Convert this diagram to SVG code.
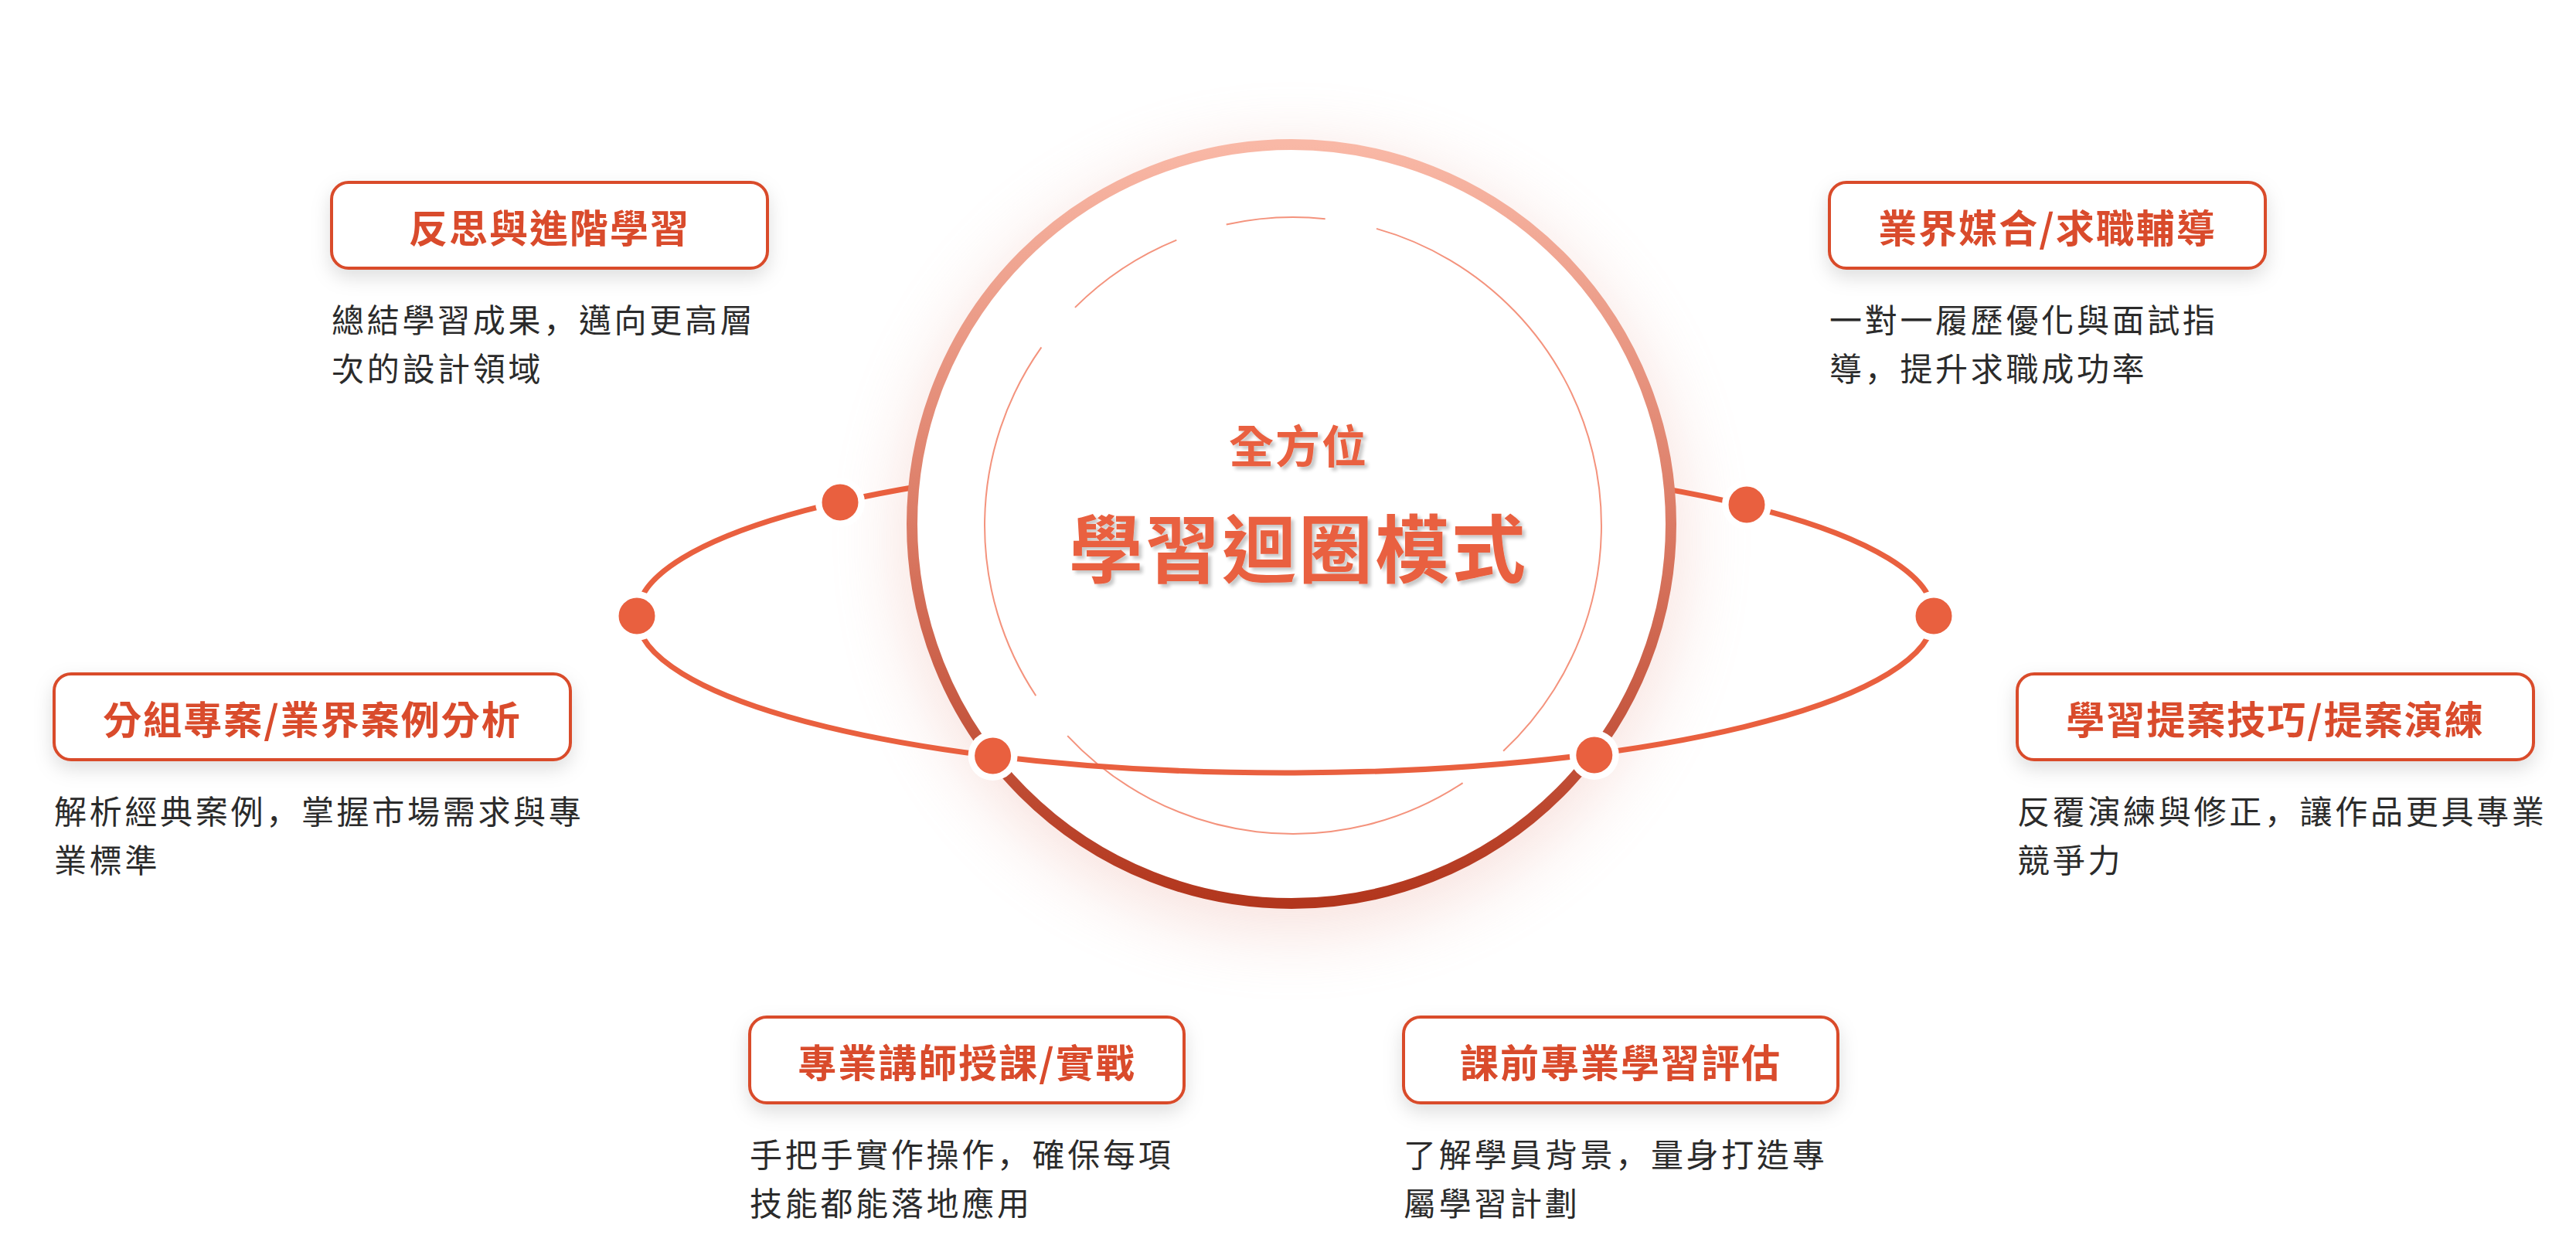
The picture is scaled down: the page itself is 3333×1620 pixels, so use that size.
<svg xmlns="http://www.w3.org/2000/svg" width="3333" height="1620" viewBox="0 0 3333 1620">
<defs>
<style>
.box{fill:#fff;stroke:#D94B2C;stroke-width:4;filter:url(#boxShadow)}
.ttl{font-family:"Noto Sans CJK TC","Noto Sans CJK SC",sans-serif;font-weight:700;font-size:50px;fill:#D94B2C;letter-spacing:2px;text-anchor:middle;dominant-baseline:central}
.desc{font-family:"Noto Sans CJK TC","Noto Sans CJK SC",sans-serif;font-weight:400;font-size:42px;fill:#2B2B2B;letter-spacing:3.7px;dominant-baseline:central}
.cm{font-family:"Noto Sans CJK SC","Noto Sans CJK TC",sans-serif}
.orbit{fill:none;stroke:#E9603F;stroke-width:7}
.inner{fill:none;stroke:#F4937D;stroke-width:2}
.dotring{fill:#fff}
.dot{fill:#E9603F}
.ctr{font-family:"Noto Sans CJK TC","Noto Sans CJK SC",sans-serif;font-weight:700;fill:#E9603F;text-anchor:middle;dominant-baseline:central;filter:url(#txtShadow)}
</style>
<linearGradient id="ringGrad" x1="0" y1="0" x2="0" y2="1">
<stop offset="0" stop-color="#F9B8A6"/>
<stop offset="0.5" stop-color="#DB7B65"/>
<stop offset="1" stop-color="#B2361D"/>
</linearGradient>
<filter id="glow" x="-50%" y="-50%" width="200%" height="200%">
<feGaussianBlur stdDeviation="45"/>
</filter>
<filter id="boxShadow" x="-20%" y="-40%" width="140%" height="200%">
<feDropShadow dx="0" dy="10" stdDeviation="12" flood-color="#000" flood-opacity="0.13"/>
</filter>
<filter id="txtShadow" x="-10%" y="-30%" width="120%" height="160%">
<feDropShadow dx="4" dy="4" stdDeviation="2" flood-color="#000" flood-opacity="0.22"/>
</filter>
</defs>
<rect width="3333" height="1620" fill="#fff"/>

<circle id="glow-halo" cx="1671" cy="700" r="505" fill="#E9A497" opacity="0.32" filter="url(#glow)"/>

<g id="connectors">
<ellipse class="orbit" cx="1663" cy="797" rx="839" ry="203"/>
</g>

<g id="center-circle">
<circle cx="1671" cy="678" r="491" fill="#fff" stroke="url(#ringGrad)" stroke-width="14"/>
<path class="inner" d="M 1347.4 449.4 A 399 399 0 0 0 1340.3 900.2"/>
<path class="inner" d="M 1522.3 310.6 A 399 399 0 0 0 1390.9 397.9"/>
<path class="inner" d="M 1586.7 290.5 A 399 399 0 0 1 1714.7 283.2"/>
<path class="inner" d="M 1781 295.9 A 399 399 0 0 1 1945.1 971.8"/>
<path class="inner" d="M 1892.6 1013.1 A 399 399 0 0 1 1381.2 952.1"/>
<text class="ctr" x="1680" y="574" font-size="58" letter-spacing="2">全方位</text>
<text class="ctr" x="1680" y="704" font-size="96" letter-spacing="3">學習迴圈模式</text>
</g>

<g id="orbit-front">
<path class="orbit" d="M 1284.6 978.2 A 839 203 0 0 0 2062.8 975.5"/>
</g>

<g id="orbit-dots">
<circle class="dotring" cx="824" cy="797" r="32"/><circle class="dot" cx="824" cy="797" r="23.5"/>
<circle class="dotring" cx="2502" cy="797" r="32"/><circle class="dot" cx="2502" cy="797" r="23.5"/>
<circle class="dotring" cx="1087" cy="650" r="32"/><circle class="dot" cx="1087" cy="650" r="23.5"/>
<circle class="dotring" cx="2260" cy="653" r="32"/><circle class="dot" cx="2260" cy="653" r="23.5"/>
<circle class="dotring" cx="1284.6" cy="978" r="32"/><circle class="dot" cx="1284.6" cy="978" r="23.5"/>
<circle class="dotring" cx="2062.8" cy="977" r="32"/><circle class="dot" cx="2062.8" cy="977" r="23.5"/>
</g>

<g id="node-reflect">
<rect class="box" x="429" y="236" width="564" height="111" rx="22"/>
<text class="ttl" x="711" y="291.5">反思與進階學習</text>
<text class="desc" x="429" y="411">總結學習成果<tspan class="cm">，</tspan>邁向更高層</text>
<text class="desc" x="429" y="474">次的設計領域</text>
</g>

<g id="node-career">
<rect class="box" x="2367" y="236" width="564" height="111" rx="22"/>
<text class="ttl" x="2649" y="291.5">業界媒合/求職輔導</text>
<text class="desc" x="2367" y="411">一對一履歷優化與面試指</text>
<text class="desc" x="2367" y="474">導<tspan class="cm">，</tspan>提升求職成功率</text>
</g>

<g id="node-group">
<rect class="box" x="70" y="872" width="668" height="111" rx="22"/>
<text class="ttl" x="404" y="927.5">分組專案/業界案例分析</text>
<text class="desc" x="70" y="1047">解析經典案例<tspan class="cm">，</tspan>掌握市場需求與專</text>
<text class="desc" x="70" y="1110">業標準</text>
</g>

<g id="node-pitch">
<rect class="box" x="2610" y="872" width="668" height="111" rx="22"/>
<text class="ttl" x="2944" y="927.5">學習提案技巧/提案演練</text>
<text class="desc" x="2610" y="1047">反覆演練與修正<tspan class="cm">，</tspan>讓作品更具專業</text>
<text class="desc" x="2610" y="1110">競爭力</text>
</g>

<g id="node-lecture">
<rect class="box" x="970" y="1316" width="562" height="111" rx="22"/>
<text class="ttl" x="1251" y="1371.5">專業講師授課/實戰</text>
<text class="desc" x="970" y="1491">手把手實作操作<tspan class="cm">，</tspan>確保每項</text>
<text class="desc" x="970" y="1554">技能都能落地應用</text>
</g>

<g id="node-assess">
<rect class="box" x="1816" y="1316" width="562" height="111" rx="22"/>
<text class="ttl" x="2097" y="1371.5">課前專業學習評估</text>
<text class="desc" x="1816" y="1491">了解學員背景<tspan class="cm">，</tspan>量身打造專</text>
<text class="desc" x="1816" y="1554">屬學習計劃</text>
</g>
</svg>
